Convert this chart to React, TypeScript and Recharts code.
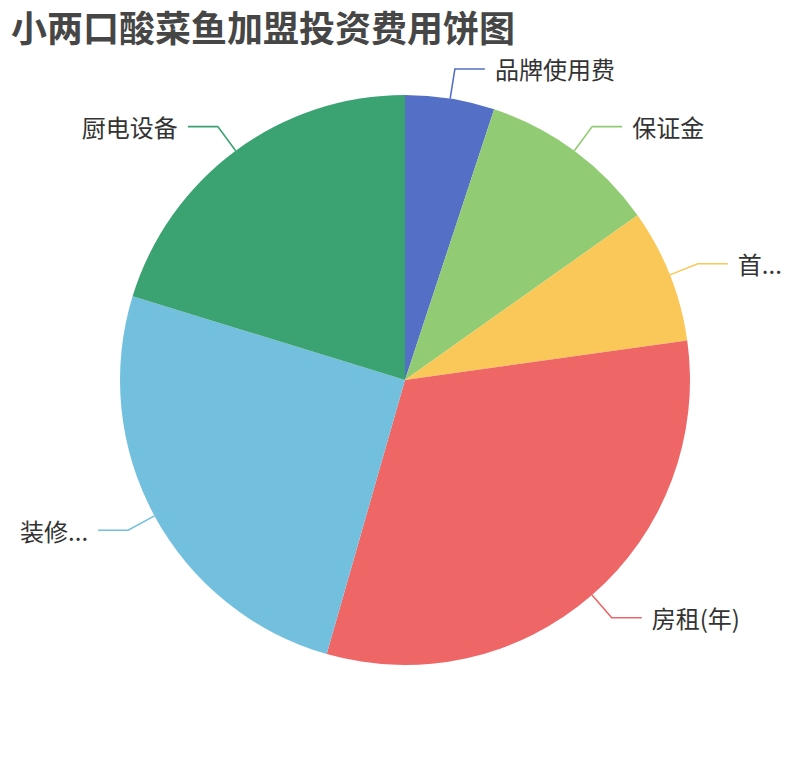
import { PieChart, Pie, Cell } from 'recharts';

// investment items, clockwise from 12 o'clock
const ITEMS = ['品牌使用费', '保证金', '首...', '房租(年)', '装修...', '厨电设备'];
const AMOUNTS = [20000, 40000, 30000, 125000, 100000, 80000];

const COLORS = ['#5470c6', '#91cc75', '#fac858', '#ee6666', '#73c0de', '#3ba272'];

const RADIAN = Math.PI / 180;
const FONT = '"Noto Sans CJK SC", "Noto Sans", sans-serif';

const data = ITEMS.map((name, i) => ({ name, value: AMOUNTS[i] }));

// echarts-style outside label: radial segment, horizontal segment, then text
const renderLabel = (props: any) => {
  const { cx, cy, midAngle, outerRadius, index, name } = props;
  const cos = Math.cos(-midAngle * RADIAN);
  const sin = Math.sin(-midAngle * RADIAN);
  const x1 = cx + outerRadius * cos;
  const y1 = cy + outerRadius * sin;
  const x2 = cx + (outerRadius + 30) * cos;
  const y2 = cy + (outerRadius + 30) * sin;
  const right = cos >= 0;
  const x3 = x2 + (right ? 30 : -30);
  const color = COLORS[index % COLORS.length];
  return (
    <g key={`lbl-${index}`}>
      <polyline
        points={`${x1},${y1} ${x2},${y2} ${x3},${y2}`}
        fill="none"
        stroke={color}
        strokeWidth={1.6}
      />
      <text
        x={x3 + (right ? 10 : -10)}
        y={y2}
        textAnchor={right ? 'start' : 'end'}
        dominantBaseline="central"
        fontSize={24}
        fontFamily={FONT}
        fill="#333"
      >
        {name}
      </text>
    </g>
  );
};

export default function App() {
  return (
    <div style={{ position: 'absolute', left: 0, top: 0, width: 810, height: 760, background: '#fff' }}>
      <div
        style={{
          position: 'absolute',
          left: 11,
          top: 3,
          fontFamily: FONT,
          fontSize: 36,
          fontWeight: 'bold',
          color: '#464646',
          lineHeight: '46px',
          whiteSpace: 'nowrap',
        }}
      >
        小两口酸菜鱼加盟投资费用饼图
      </div>
      <PieChart width={810} height={760} margin={{ top: 0, right: 0, bottom: 0, left: 0 }}>
        <Pie
          data={data}
          dataKey="value"
          nameKey="name"
          cx={405}
          cy={380}
          outerRadius={285}
          startAngle={90}
          endAngle={-270}
          stroke="none"
          label={renderLabel}
          labelLine={false}
          isAnimationActive={false}
        >
          {data.map((_, i) => (
            <Cell key={i} fill={COLORS[i % COLORS.length]} />
          ))}
        </Pie>
      </PieChart>
    </div>
  );
}
